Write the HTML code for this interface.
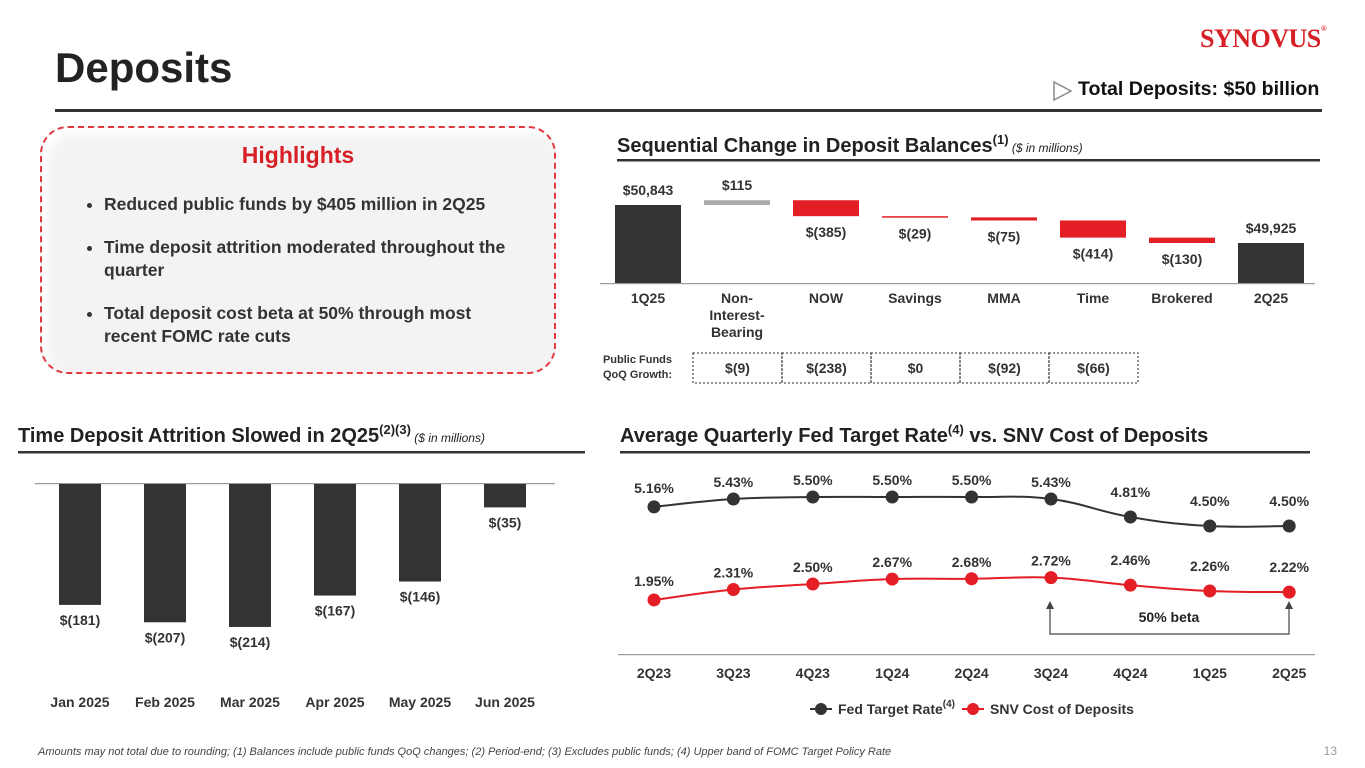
<!DOCTYPE html>
<html><head><meta charset="utf-8">
<style>
html,body{margin:0;padding:0;background:#fff;}
body{width:1365px;height:768px;overflow:hidden;position:relative;font-family:"Liberation Sans",sans-serif;color:#222;}
.abs{position:absolute;}
svg text{font-family:"Liberation Sans",sans-serif;}
</style></head>
<body>
<div class="abs" style="left:55px;top:44px;font-size:42px;font-weight:bold;color:#222;">Deposits</div>
<div class="abs" style="left:1200px;top:24px;font-family:'Liberation Serif',serif;font-size:26px;font-weight:bold;color:#d71f26;letter-spacing:-0.5px;">SYNOVUS<span style="font-size:8px;vertical-align:top;">®</span></div>
<div class="abs" style="left:1078px;top:78px;font-size:19.6px;font-weight:bold;color:#111;">Total Deposits: $50 billion</div>
<div class="abs" style="left:55px;top:109px;width:1267px;height:3px;background:#333;"></div>

<div class="abs" style="left:40px;top:126px;width:512px;height:244px;border:2px dashed #e03a3e;border-radius:28px;background:#f3f3f3;box-shadow:inset 6px 6px 10px #fff;">
  <div style="text-align:center;margin-top:14px;font-size:23px;font-weight:bold;color:#d71f26;">Highlights</div>
  <ul style="margin:24px 40px 0 0;padding-left:62px;font-size:17.5px;font-weight:bold;color:#333;line-height:23px;">
    <li style="margin-bottom:20px;">Reduced public funds by $405 million in 2Q25</li>
    <li style="margin-bottom:20px;">Time deposit attrition moderated throughout the quarter</li>
    <li>Total deposit cost beta at 50% through most recent FOMC rate cuts</li>
  </ul>
</div>

<svg id="main" class="abs" style="left:0;top:0" width="1365" height="768">
  <polygon points="1054,82 1071,91 1054,100" fill="#fff" stroke="#888" stroke-width="1.5"/>
  <text x="617" y="152" font-size="20" font-weight="bold" fill="#222">Sequential Change in Deposit Balances<tspan font-size="13" dy="-8">(1)</tspan><tspan font-size="12" font-style="italic" font-weight="normal" dy="8"> ($ in millions)</tspan></text>
  <rect x="617" y="159" width="703" height="2.5" fill="#333"/>
  <text x="18" y="442" font-size="20" font-weight="bold" fill="#222">Time Deposit Attrition Slowed in 2Q25<tspan font-size="13" dy="-8">(2)(3)</tspan><tspan font-size="12" font-style="italic" font-weight="normal" dy="8"> ($ in millions)</tspan></text>
  <rect x="18" y="451" width="567" height="2.5" fill="#333"/>
  <text x="620" y="442" font-size="20" font-weight="bold" fill="#222">Average Quarterly Fed Target Rate<tspan font-size="13" dy="-8">(4)</tspan><tspan dy="8"> vs. SNV Cost of Deposits</tspan></text>
  <rect x="620" y="451" width="690" height="2.5" fill="#333"/>

  <rect x="600" y="283" width="715" height="1.2" fill="#999"/>
  <rect x="618" y="654" width="697" height="1.2" fill="#999"/>

  <text x="672" y="363" font-size="11" font-weight="bold" fill="#333" text-anchor="end">Public Funds</text>
  <text x="672" y="378" font-size="11" font-weight="bold" fill="#333" text-anchor="end">QoQ Growth:</text>

  <path d="M1050,606 V634 H1289 V606" fill="none" stroke="#444" stroke-width="1.2"/>
  <polygon points="1046,609 1050,601 1054,609" fill="#444"/>
  <polygon points="1285,609 1289,601 1293,609" fill="#444"/>
  <text x="1169" y="622" font-size="14" font-weight="bold" fill="#222" text-anchor="middle">50% beta</text>

  <line x1="810" y1="709" x2="832" y2="709" stroke="#333" stroke-width="2"/>
  <circle cx="821" cy="709" r="6" fill="#333"/>
  <text x="838" y="714" font-size="14" font-weight="bold" fill="#333">Fed Target Rate<tspan font-size="10" dy="-7">(4)</tspan></text>
  <line x1="962" y1="709" x2="984" y2="709" stroke="#e31e24" stroke-width="2"/>
  <circle cx="973" cy="709" r="6" fill="#e31e24"/>
  <text x="990" y="714" font-size="14" font-weight="bold" fill="#333">SNV Cost of Deposits</text>

  <text x="38" y="755" font-size="11" font-style="italic" fill="#444">Amounts may not total due to rounding; (1) Balances include public funds QoQ changes; (2) Period-end; (3) Excludes public funds; (4) Upper band of FOMC Target Policy Rate</text>
  <text x="1337" y="755" font-size="12" fill="#999" text-anchor="end">13</text>
  <g id="g"></g>
</svg>

<script>
const wfCategories = ["1Q25","Non-|Interest-|Bearing","NOW","Savings","MMA","Time","Brokered","2Q25"];
const wfValues = [50843, 115, -385, -29, -75, -414, -130, 49925];
const wfLabels = ["$50,843","$115","$(385)","$(29)","$(75)","$(414)","$(130)","$49,925"];
const publicFunds = ["$(9)","$(238)","$0","$(92)","$(66)"];
const tdCategories = ["Jan 2025","Feb 2025","Mar 2025","Apr 2025","May 2025","Jun 2025"];
const tdValues = [-181, -207, -214, -167, -146, -35];
const rateCategories = ["2Q23","3Q23","4Q23","1Q24","2Q24","3Q24","4Q24","1Q25","2Q25"];
const fedRate = [5.16, 5.43, 5.50, 5.50, 5.50, 5.43, 4.81, 4.50, 4.50];
const snvCost = [1.95, 2.31, 2.50, 2.67, 2.68, 2.72, 2.46, 2.26, 2.22];

const NS = "http://www.w3.org/2000/svg";
const g = document.getElementById("g");
function mk(tag, attrs, txt){const e=document.createElementNS(NS,tag);for(const k in attrs)e.setAttribute(k,attrs[k]);if(txt!==undefined)e.textContent=txt;g.appendChild(e);return e;}

const wfX = i => 648 + i*89;
const wfBase = 48959, wfK = 0.0414;
const wfY = v => 283 - (v - wfBase)*wfK;
let running = wfValues[0];
wfValues.forEach((v,i)=>{
  let top, bot, fill;
  if(i===0 || i===wfValues.length-1){ top=wfY(v); bot=283; fill="#333"; }
  else { const nxt = running + v; top = wfY(Math.max(running,nxt)); bot = wfY(Math.min(running,nxt)); fill = v>=0?"#aaa":"#e31e24"; running = nxt; }
  const h = Math.max(bot-top,1.5);
  const r = mk("rect",{x:wfX(i)-33,y:top,width:66,height:h,fill:fill});
  
  
  const neg = v<0 && i>0 && i<wfValues.length-1;
  const ly = neg ? top+h+21 : top-10;
  const t = mk("text",{x:wfX(i),y:ly,"font-size":14,"font-weight":"bold",fill:"#333","text-anchor":"middle"},wfLabels[i]);
  
  
  wfCategories[i].split("|").forEach((ln,j)=>{
    const c = mk("text",{x:wfX(i),y:303+j*17,"font-size":14,"font-weight":"bold",fill:"#333","text-anchor":"middle"},ln);
    
    
  });
});
publicFunds.forEach((p,i)=>{
  const x = wfX(i+1)-44;
  const r = mk("rect",{x:x,y:353,width:89,height:30,fill:"none",stroke:"#555","stroke-width":1.3,"stroke-dasharray":"2,2"});
  
  
  const t = mk("text",{x:x+44.5,y:373,"font-size":14,"font-weight":"bold",fill:"#333","text-anchor":"middle"},p);
  
  
});

const tdX = i => 80 + i*85;
const tdY = v => 484 - v*0.668;
const zl = mk("rect",{x:35,y:483,width:520,height:1.2,fill:"#999"});


tdValues.forEach((v,i)=>{
  const y0=tdY(0), y1=tdY(v);
  const r = mk("rect",{x:tdX(i)-21,y:Math.min(y0,y1),width:42,height:Math.abs(y1-y0),fill:"#333"});
  
  
  const t = mk("text",{x:tdX(i),y:Math.max(y0,y1)+20,"font-size":14,"font-weight":"bold",fill:"#333","text-anchor":"middle"},"$("+Math.abs(v)+")");
  
  
  const c = mk("text",{x:tdX(i),y:707,"font-size":14,"font-weight":"bold",fill:"#333","text-anchor":"middle"},tdCategories[i]);
  
  
});

const rX = i => 654 + i*79.4;
const rY = v => 497 + (5.5 - v)*29;
function smooth(vals){
  const p = vals.map((v,i)=>[rX(i),rY(v)]);
  let d = "M"+p[0][0]+","+p[0][1];
  for(let i=0;i<p.length-1;i++){
    const p0=p[Math.max(i-1,0)],p1=p[i],p2=p[i+1],p3=p[Math.min(i+2,p.length-1)];
    const t=0.2;
    d+=" C"+(p1[0]+(p2[0]-p0[0])*t)+","+(p1[1]+(p2[1]-p0[1])*t)+" "+(p2[0]-(p3[0]-p1[0])*t)+","+(p2[1]-(p3[1]-p1[1])*t)+" "+p2[0]+","+p2[1];
  }
  return d;
}
[[fedRate,"#333","fed"],[snvCost,"#e31e24","snv"]].forEach(([vals,col,nm])=>{
  const l = mk("path",{d:smooth(vals),fill:"none",stroke:col,"stroke-width":2});
  
  
  vals.forEach((v,i)=>{
    const c = mk("circle",{cx:rX(i),cy:rY(v),r:6.5,fill:col});
    
    
    const t = mk("text",{x:rX(i),y:rY(v)-(i===0?14:i>=6?20:12),"font-size":14,"font-weight":"bold",fill:"#333","text-anchor":"middle"},v.toFixed(2)+"%");
    
    
  });
});
rateCategories.forEach((c,i)=>{
  const t = mk("text",{x:rX(i),y:678,"font-size":14,"font-weight":"bold",fill:"#333","text-anchor":"middle"},c);
  
  
});
</script>
</body></html>
